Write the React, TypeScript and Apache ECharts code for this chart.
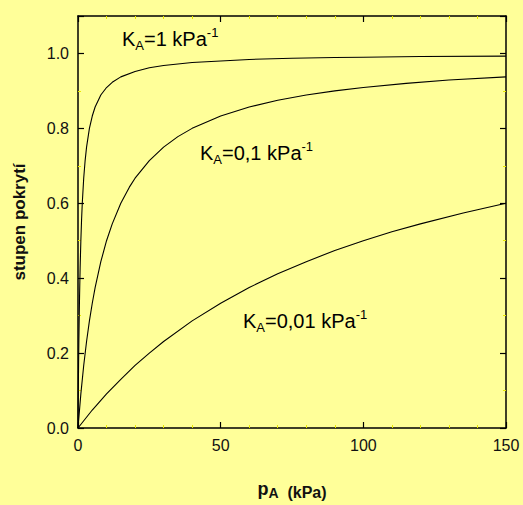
import React, { useEffect, useRef } from "react";
import * as echarts from "echarts";

// Pressure p_A (kPa) and surface coverage for each K_A
const pK1 = [0, 0.1, 0.2, 0.3, 0.5, 0.75, 1, 1.25, 1.5, 2, 2.5, 3, 4, 5, 6, 8, 10, 12, 15, 20, 25, 30, 40, 50, 60, 75, 90, 100, 120, 150];
const thetaK1 = [0, 0.091, 0.167, 0.231, 0.333, 0.429, 0.5, 0.556, 0.6, 0.667, 0.714, 0.75, 0.8, 0.833, 0.857, 0.889, 0.909, 0.923, 0.9375, 0.952, 0.962, 0.968, 0.976, 0.98, 0.984, 0.987, 0.989, 0.99, 0.992, 0.993];

const pK01 = [0, 1, 2, 3, 4, 5, 6, 8, 10, 12, 15, 18, 20, 25, 30, 35, 40, 50, 60, 70, 80, 90, 100, 115, 130, 150];
const thetaK01 = [0, 0.091, 0.167, 0.231, 0.286, 0.333, 0.375, 0.444, 0.5, 0.545, 0.6, 0.643, 0.667, 0.714, 0.75, 0.778, 0.8, 0.833, 0.857, 0.875, 0.889, 0.9, 0.909, 0.92, 0.929, 0.9375];

const pK001 = [0, 5, 10, 15, 20, 25, 30, 40, 50, 60, 70, 80, 90, 100, 110, 120, 135, 150];
const thetaK001 = [0, 0.048, 0.091, 0.13, 0.167, 0.2, 0.231, 0.286, 0.333, 0.375, 0.412, 0.444, 0.474, 0.5, 0.524, 0.545, 0.574, 0.6];

const xTicks = [0, 50, 100, 150];
const yTicks = [0, 0.2, 0.4, 0.6, 0.8, 1.0];

const labels = [
  { k: "1", x: 122, y: 26 },
  { k: "0,1", x: 200, y: 140 },
  { k: "0,01", x: 243, y: 308 },
];

const zip = (a: number[], b: number[]) => a.map((v, i) => [v, b[i]]);

export default function App() {
  const ref = useRef<HTMLDivElement>(null);
  useEffect(() => {
    if (!ref.current) return;
    const chart = echarts.init(ref.current, undefined, { renderer: "svg" });
    const font = "Liberation Sans, Arial, sans-serif";
    const tickStyle = { show: true, inside: true, length: 6, lineStyle: { color: "#000", width: 1.2 } };
    const minorStyle = { show: true, splitNumber: 5, length: 3, lineStyle: { color: "#e8e800", width: 1 } };
    const lineStyle = { color: "#000", width: 1.5 };
    const series = [
      zip(pK1, thetaK1),
      zip(pK01, thetaK01),
      zip(pK001, thetaK001),
    ].map((d) => ({
      type: "line",
      data: d,
      showSymbol: false,
      symbol: "none",
      smooth: false,
      lineStyle: { color: "#000", width: 1.1 },
      silent: true,
    }));

    const rich = {
      m: { fontSize: 20, fontFamily: font, color: "#111", lineHeight: 26, verticalAlign: "middle" },
      s: { fontSize: 13, fontFamily: font, color: "#111", lineHeight: 26, verticalAlign: "bottom" },
      u: { fontSize: 13, fontFamily: font, color: "#111", lineHeight: 26, verticalAlign: "top" },
    };

    chart.setOption({
      animation: false,
      backgroundColor: "#ffff99",
      grid: { left: 78, top: 16, width: 428, height: 419, containLabel: false },
      xAxis: [
        {
          type: "value",
          min: 0,
          max: 150,
          interval: 50,
          position: "bottom",
          axisLine: { show: true, onZero: false, lineStyle },
          axisTick: tickStyle,
          minorTick: minorStyle,
          splitLine: { show: false },
          axisLabel: {
            fontSize: 16,
            fontFamily: font,
            color: "#111",
            margin: 9,
            formatter: (v: number) => (xTicks.includes(v) ? String(v) : ""),
          },
          name: "{p|p}{s|A}{k|  (kPa)}",
          nameLocation: "middle",
          nameGap: 50,
          nameTextStyle: {
            rich: {
              p: { fontSize: 18, fontWeight: "bold", fontFamily: font, color: "#111", lineHeight: 22, verticalAlign: "middle" },
              s: { fontSize: 14, fontWeight: "bold", fontFamily: font, color: "#111", lineHeight: 22, verticalAlign: "bottom" },
              k: { fontSize: 16, fontWeight: "bold", fontFamily: font, color: "#111", lineHeight: 22, verticalAlign: "bottom" },
            },
          },
        },
        {
          type: "value",
          min: 0,
          max: 150,
          interval: 50,
          position: "top",
          axisLine: { show: true, onZero: false, lineStyle },
          axisTick: tickStyle,
          minorTick: minorStyle,
          splitLine: { show: false },
          axisLabel: { show: false },
        },
      ],
      yAxis: [
        {
          type: "value",
          min: 0,
          max: 1.1,
          interval: 0.2,
          position: "left",
          axisLine: { show: true, onZero: false, lineStyle },
          axisTick: tickStyle,
          minorTick: { ...minorStyle, splitNumber: 2 },
          splitLine: { show: false },
          axisLabel: {
            fontSize: 16,
            fontFamily: font,
            color: "#111",
            margin: 9,
            showMaxLabel: false,
            formatter: (v: number) => (yTicks.some((t) => Math.abs(t - v) < 1e-6) ? v.toFixed(1) : ""),
          },
          name: "stupen pokrytí",
          nameLocation: "middle",
          nameGap: 50,
          nameRotate: 90,
          nameTextStyle: { fontSize: 17, fontWeight: "bold", fontFamily: font, color: "#111" },
        },
        {
          type: "value",
          min: 0,
          max: 1.1,
          interval: 0.2,
          position: "right",
          axisLine: { show: true, onZero: false, lineStyle },
          axisTick: tickStyle,
          minorTick: { ...minorStyle, splitNumber: 2 },
          splitLine: { show: false },
          axisLabel: { show: false },
        },
      ],
      series,
      graphic: labels.map((l) => ({
        type: "text",
        x: l.x,
        y: l.y,
        silent: true,
        style: {
          text: `{m|K}{s|A}{m|=${l.k} kPa}{u|-1}`,
          rich,
          align: "left",
          verticalAlign: "top",
        },
      })),
    });
    return () => chart.dispose();
  }, []);
  return (
    <div
      ref={ref}
      style={{ position: "absolute", left: 0, top: 0, width: 523, height: 505 }}
    />
  );
}
